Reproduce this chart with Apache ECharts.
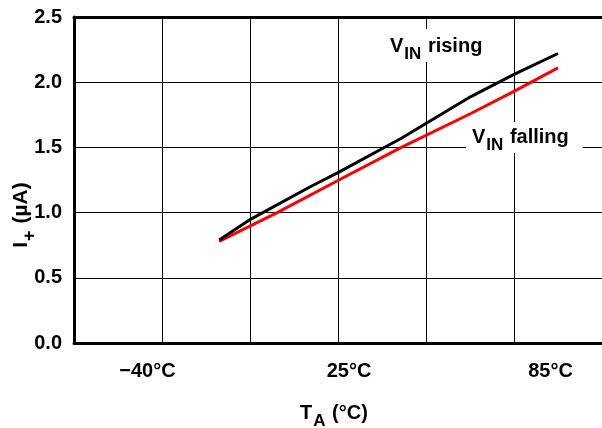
<!DOCTYPE html>
<html>
<head>
<meta charset="utf-8">
<script src="https://cdn.jsdelivr.net/npm/echarts@6/dist/echarts.min.js"></script>
<style>
  html, body { margin: 0; padding: 0; background: #fff; }
  #chart { width: 602px; height: 428px; }
</style>
</head>
<body>
<div id="chart"></div>
<script>
// Supply current I+ versus ambient temperature, for rising and falling input.

// Temperature tick labels under the plot
const tempLabels = ['\u221240\u00b0C', '25\u00b0C', '85\u00b0C'];

// Horizontal position of each sample, in grid divisions (0 … 6)
const risingX  = [1.65, 2.01, 2.69, 3.01, 3.72, 4.51, 5.00, 5.50];
const risingI  = [0.79, 0.95, 1.20, 1.31, 1.57, 1.89, 2.06, 2.22];

const fallingX = [1.65, 2.01, 2.31, 3.01, 3.72, 4.51, 5.00, 5.50];
const fallingI = [0.78, 0.90, 1.00, 1.25, 1.50, 1.76, 1.93, 2.11];

// Current axis (µA) and grid divisions
const iMin = 0, iMax = 2.5, iStep = 0.5;
const divMin = 0, divMax = 6, divStep = 1;

// Plot frame in pixels, and where the temperature labels sit
const PLOT = { left: 74, top: 17, width: 528, height: 326 };
const LABEL_FIRST_PX = 147.5;   // centre of the first temperature label
const LABEL_STEP_PX = 201.5;    // spacing between temperature labels

const FONT = '"Liberation Sans", Arial, Helvetica, sans-serif';

function pairs(xs, ys) { return xs.map((x, i) => [x, ys[i]]); }

// The label axis counts labels 0, 1, 2 … across the same plot frame
const labelMin = (PLOT.left - LABEL_FIRST_PX) / LABEL_STEP_PX;
const labelMax = (PLOT.left + PLOT.width - LABEL_FIRST_PX) / LABEL_STEP_PX;

const chart = echarts.init(document.getElementById('chart'), null, { renderer: 'canvas' });

// Rich text with a lowered subscript
function subRich(main, sub, drop) {
  return {
    m: { fontSize: main, fontWeight: 'bold', fontFamily: FONT, fill: '#000', lineHeight: 22, verticalAlign: 'top' },
    s: { fontSize: sub, fontWeight: 'bold', fontFamily: FONT, fill: '#000', lineHeight: 17, verticalAlign: 'top', padding: [drop, 1, 0, 1] }
  };
}
const textRich = subRich(20, 17, 10);
const titleRich = subRich(21, 18, 10);

const tickFont = { color: '#000', fontSize: 20, fontWeight: 'bold', fontFamily: FONT };

chart.setOption({
  animation: false,
  backgroundColor: '#fff',
  grid: [Object.assign({ containLabel: false }, PLOT)],
  xAxis: [
    {
      type: 'value', min: divMin, max: divMax, interval: divStep,
      axisLine: { show: true, lineStyle: { color: '#000', width: 3 } },
      axisTick: { show: false },
      axisLabel: { show: false },
      splitLine: { show: true, lineStyle: { color: '#000', width: 1 } }
    },
    {
      type: 'value', position: 'bottom', min: labelMin, max: labelMax,
      axisLine: { show: false }, axisTick: { show: false }, splitLine: { show: false },
      axisLabel: Object.assign({
        margin: 18,
        customValues: tempLabels.map((_, i) => i),
        formatter: v => tempLabels[Math.round(v)]
      }, tickFont)
    },
    {
      type: 'value', position: 'top', min: divMin, max: divMax,
      axisLine: { show: true, lineStyle: { color: '#000', width: 3 } },
      axisTick: { show: false }, axisLabel: { show: false }, splitLine: { show: false }
    }
  ],
  yAxis: {
    type: 'value', min: iMin, max: iMax, interval: iStep,
    axisLine: { show: true, lineStyle: { color: '#000', width: 3 } },
    axisTick: { show: false },
    axisLabel: Object.assign({ margin: 12, formatter: v => v.toFixed(1) }, tickFont),
    splitLine: { show: true, lineStyle: { color: '#000', width: 1 } }
  },
  series: [
    {
      name: 'VIN rising', type: 'line', xAxisIndex: 0,
      data: pairs(risingX, risingI), showSymbol: false, symbol: 'none',
      lineStyle: { color: '#000', width: 3 }, z: 4
    },
    {
      name: 'VIN falling', type: 'line', xAxisIndex: 0,
      data: pairs(fallingX, fallingI), showSymbol: false, symbol: 'none',
      lineStyle: { color: '#ff0000', width: 3 }, z: 3
    }
  ],
  graphic: [
    {
      type: 'text', x: 386, y: 29, z: 10,
      style: {
        text: '{m|V}{s|IN}{m| rising}', rich: textRich,
        backgroundColor: '#fff', padding: [7, 4, 4, 4]
      }
    },
    {
      type: 'text', x: 466, y: 122, z: 10,
      style: {
        text: '{m|V}{s|IN}{m| falling}', rich: textRich,
        backgroundColor: '#fff', padding: [5, 14, 4, 6]
      }
    },
    {
      type: 'text', x: 300, y: 403, z: 10,
      style: { text: '{m|T}{s|A}{m| (\u00b0C)}', rich: textRich }
    },
    {
      type: 'text', x: 22, y: 215, rotation: Math.PI / 2, z: 10,
      style: {
        text: '{m|I}{s|+}{m| (\u00b5A)}', rich: titleRich,
        align: 'center', verticalAlign: 'middle'
      }
    }
  ]
});
</script>
</body>
</html>
